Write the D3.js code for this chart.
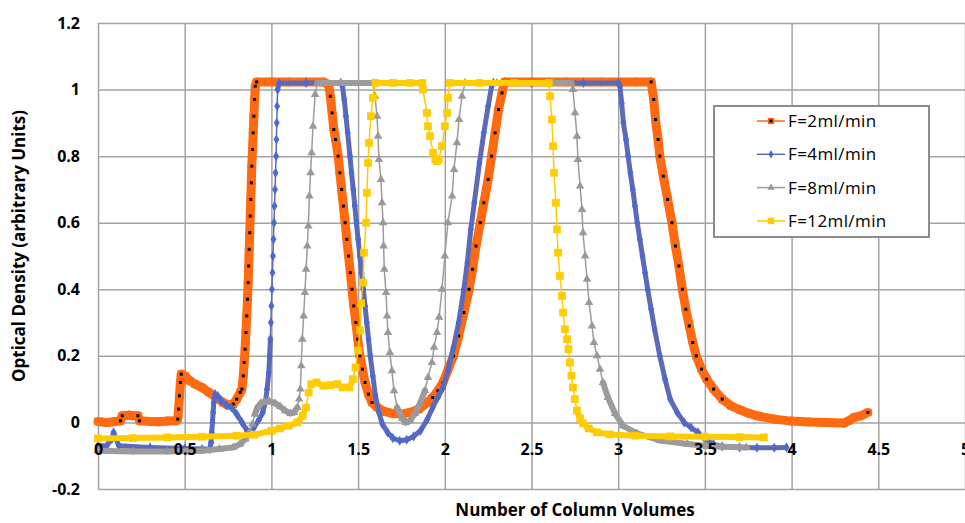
<!DOCTYPE html>
<html>
<head>
<meta charset="utf-8">
<script src="https://cdn.jsdelivr.net/npm/d3@7"></script>
<style>
  body { margin: 0; background: #fff; }
  svg { display: block; }
  .labels text { font-family: "Open Sans", sans-serif; font-weight: bold; font-size: 16px; fill: #000; }
</style>
</head>
<body>
<div id="chart"></div>
<script>
// tick values
let xTicks = [0, 0.5, 1, 1.5, 2, 2.5, 3, 3.5, 4, 4.5, 5]
let yTicks = [-0.2, 0, 0.2, 0.4, 0.6, 0.8, 1, 1.2]

let seriesNames = ["F=2ml/min", "F=4ml/min", "F=8ml/min", "F=12ml/min"]

// [column volumes, optical density]
let f2 = [[0,0.003],[0.05,0.0],[0.1,0.003],[0.13,0.005],[0.14,0.02],[0.18,0.022],[0.2,0.02],[0.23,0.02],[0.24,0.005],
  [0.3,0.003],[0.35,0.002],[0.4,0.004],[0.45,0.005],[0.46,0.01],[0.465,0.04],[0.47,0.08],[0.475,0.12],[0.48,0.145],
  [0.5,0.14],[0.53,0.125],[0.56,0.115],[0.6,0.105],[0.64,0.09],[0.68,0.075],[0.72,0.06],[0.75,0.052],[0.78,0.055],
  [0.8,0.07],[0.82,0.09],[0.83,0.1],[0.838,0.14],[0.843,0.18],[0.848,0.22],[0.853,0.27],[0.858,0.32],[0.862,0.37],
  [0.866,0.42],[0.869,0.47],[0.872,0.52],[0.875,0.57],[0.878,0.62],[0.881,0.67],[0.884,0.72],[0.887,0.77],[0.891,0.82],
  [0.895,0.87],[0.899,0.92],[0.903,0.97],[0.907,1.01],[0.915,1.023],[1.0,1.023],[1.1,1.023],[1.2,1.023],[1.3,1.023],
  [1.33,1.015],[1.34,0.98],[1.35,0.93],[1.36,0.88],[1.37,0.85],[1.385,0.8],[1.395,0.75],[1.405,0.7],[1.415,0.65],
  [1.425,0.6],[1.435,0.55],[1.445,0.5],[1.455,0.45],[1.465,0.4],[1.475,0.35],[1.487,0.3],[1.498,0.25],[1.51,0.2],
  [1.525,0.16],[1.54,0.12],[1.56,0.085],[1.58,0.06],[1.61,0.045],[1.65,0.033],[1.7,0.027],[1.75,0.025],[1.8,0.03],
  [1.85,0.04],[1.9,0.06],[1.93,0.075],[1.96,0.095],[1.99,0.12],[2.02,0.16],[2.05,0.2],[2.08,0.26],[2.11,0.33],
  [2.14,0.4],[2.16,0.46],[2.18,0.53],[2.205,0.6],[2.225,0.66],[2.25,0.73],[2.27,0.8],[2.29,0.87],[2.31,0.94],
  [2.33,0.99],[2.345,1.023],[2.5,1.023],[2.7,1.023],[2.9,1.023],[3.1,1.023],[3.19,1.023],[3.205,0.97],[3.215,0.91],
  [3.23,0.85],[3.24,0.8],[3.26,0.74],[3.285,0.67],[3.31,0.6],[3.33,0.53],[3.35,0.47],[3.37,0.4],[3.39,0.34],
  [3.41,0.29],[3.43,0.24],[3.45,0.2],[3.48,0.16],[3.51,0.13],[3.55,0.1],[3.6,0.07],[3.65,0.05],[3.7,0.038],
  [3.75,0.028],[3.8,0.02],[3.9,0.01],[4.0,0.004],[4.1,0.001],[4.2,0.0],[4.3,-0.002],[4.33,0.005],[4.36,0.015],
  [4.4,0.02],[4.44,0.03]]

let f4 = [[0,-0.07],[0.05,-0.07],[0.08,-0.05],[0.09,-0.03],[0.1,-0.045],[0.12,-0.07],[0.3,-0.075],[0.5,-0.078],
  [0.6,-0.08],[0.645,-0.08],[0.652,-0.06],[0.656,-0.03],[0.66,0.0],[0.664,0.03],[0.668,0.06],[0.675,0.085],
  [0.69,0.08],[0.71,0.065],[0.74,0.052],[0.77,0.045],[0.8,0.025],[0.83,0.0],[0.86,-0.025],[0.875,-0.03],[0.9,-0.015],
  [0.93,0.01],[0.95,0.03],[0.965,0.06],[0.975,0.1],[0.985,0.15],[0.99,0.2],[0.994,0.25],[0.997,0.3],[1.0,0.35],
  [1.003,0.4],[1.006,0.45],[1.009,0.5],[1.012,0.55],[1.015,0.6],[1.018,0.65],[1.021,0.7],[1.024,0.75],[1.027,0.8],
  [1.029,0.85],[1.031,0.9],[1.033,0.95],[1.036,1.0],[1.045,1.02],[1.2,1.02],[1.4,1.02],[1.41,1.01],[1.42,0.97],
  [1.43,0.92],[1.44,0.87],[1.453,0.8],[1.462,0.75],[1.472,0.7],[1.481,0.65],[1.49,0.6],[1.5,0.55],[1.51,0.5],
  [1.52,0.45],[1.53,0.4],[1.54,0.35],[1.55,0.3],[1.56,0.25],[1.57,0.2],[1.585,0.14],[1.6,0.08],[1.62,0.03],
  [1.64,-0.005],[1.67,-0.03],[1.7,-0.047],[1.74,-0.055],[1.78,-0.052],[1.82,-0.042],[1.86,-0.025],[1.9,0.01],
  [1.93,0.045],[1.96,0.075],[1.99,0.105],[2.02,0.16],[2.05,0.225],[2.08,0.3],[2.11,0.4],[2.13,0.48],[2.15,0.58],
  [2.17,0.66],[2.2,0.78],[2.225,0.87],[2.25,0.95],[2.27,1.01],[2.28,1.02],[2.5,1.02],[2.8,1.02],[3.0,1.02],
  [3.01,1.01],[3.02,0.96],[3.03,0.9],[3.045,0.85],[3.057,0.8],[3.07,0.75],[3.084,0.7],[3.097,0.65],[3.11,0.6],
  [3.125,0.55],[3.14,0.5],[3.155,0.45],[3.17,0.4],[3.19,0.34],[3.21,0.28],[3.24,0.2],[3.27,0.13],[3.3,0.07],
  [3.34,0.03],[3.38,0.0],[3.42,-0.015],[3.46,-0.03],[3.5,-0.05],[3.55,-0.065],[3.6,-0.072],[3.7,-0.075],
  [3.8,-0.076],[3.9,-0.076],[3.97,-0.075]]

let f8 = [[0,-0.085],[0.2,-0.087],[0.4,-0.087],[0.6,-0.085],[0.7,-0.08],[0.78,-0.075],[0.82,-0.065],[0.85,-0.05],
  [0.875,-0.03],[0.89,-0.005],[0.905,0.025],[0.92,0.045],[0.94,0.058],[0.96,0.062],[0.99,0.063],[1.02,0.058],
  [1.05,0.048],[1.08,0.035],[1.11,0.027],[1.13,0.03],[1.15,0.045],[1.16,0.07],[1.167,0.1],[1.172,0.17],[1.178,0.25],
  [1.186,0.32],[1.193,0.39],[1.2,0.46],[1.207,0.53],[1.213,0.59],[1.219,0.68],[1.226,0.75],[1.232,0.81],[1.24,0.89],
  [1.252,0.985],[1.265,1.02],[1.4,1.02],[1.586,1.02],[1.597,0.98],[1.609,0.92],[1.615,0.86],[1.62,0.79],
  [1.632,0.73],[1.638,0.66],[1.644,0.6],[1.647,0.53],[1.651,0.46],[1.661,0.39],[1.667,0.32],[1.672,0.27],
  [1.683,0.21],[1.695,0.155],[1.707,0.095],[1.725,0.045],[1.755,0.012],[1.775,0.0],[1.8,0.006],[1.828,0.027],
  [1.857,0.057],[1.886,0.096],[1.903,0.135],[1.926,0.18],[1.938,0.226],[1.955,0.27],[1.967,0.316],[1.984,0.4],
  [2.0,0.5],[2.018,0.6],[2.042,0.68],[2.053,0.76],[2.07,0.84],[2.082,0.91],[2.099,0.98],[2.117,1.02],[2.3,1.02],
  [2.5,1.02],[2.73,1.02],[2.739,1.0],[2.751,0.93],[2.762,0.86],[2.768,0.79],[2.78,0.71],[2.791,0.64],[2.797,0.57],
  [2.809,0.5],[2.82,0.43],[2.832,0.36],[2.849,0.29],[2.86,0.24],[2.878,0.2],[2.895,0.16],[2.912,0.12],[2.941,0.075],
  [2.982,0.027],[3.028,-0.01],[3.108,-0.033],[3.241,-0.054],[3.4,-0.065],[3.5,-0.07],[3.6,-0.073],[3.74,-0.075]]

let f12 = [[0,-0.048],[0.2,-0.047],[0.4,-0.045],[0.6,-0.043],[0.8,-0.04],[0.9,-0.037],[1.0,-0.025],[1.05,-0.018],
  [1.1,-0.01],[1.15,0.0],[1.18,0.02],[1.2,0.045],[1.215,0.09],[1.23,0.115],[1.26,0.12],[1.3,0.11],[1.34,0.112],
  [1.38,0.115],[1.41,0.105],[1.45,0.105],[1.47,0.13],[1.485,0.165],[1.5,0.216],[1.511,0.277],[1.517,0.358],
  [1.528,0.42],[1.534,0.51],[1.546,0.6],[1.551,0.69],[1.557,0.78],[1.563,0.84],[1.574,0.92],[1.586,0.975],
  [1.6,1.02],[1.7,1.02],[1.8,1.02],[1.87,1.02],[1.874,1.0],[1.897,0.93],[1.903,0.89],[1.915,0.86],[1.932,0.81],
  [1.945,0.79],[1.955,0.785],[1.965,0.79],[1.984,0.83],[2.0,0.89],[2.013,0.93],[2.018,0.975],[2.03,1.02],
  [2.2,1.02],[2.4,1.02],[2.6,1.02],[2.607,0.98],[2.618,0.91],[2.624,0.83],[2.63,0.75],[2.641,0.66],[2.647,0.58],
  [2.653,0.51],[2.664,0.44],[2.676,0.38],[2.682,0.33],[2.693,0.28],[2.705,0.25],[2.713,0.22],[2.722,0.18],
  [2.73,0.14],[2.739,0.105],[2.75,0.07],[2.762,0.036],[2.78,0.012],[2.797,-0.003],[2.83,-0.018],[2.878,-0.03],
  [2.95,-0.036],[3.1,-0.04],[3.3,-0.042],[3.5,-0.043],[3.7,-0.044],[3.84,-0.045]]

let seriesData = [f2, f4, f8, f12]

// look of each series: colour, band width for flat parts, thin width for steep parts
let styles = [
  {line: "#ff6a10", mark: "#ff6a10", band: 9, thin: 9, steep: 1e9, shape: d3.symbolSquare, size: 56, dot: true},
  {line: "#5f6ab4", mark: "#4d68cf", band: 5, thin: 1.5, steep: 25, shape: d3.symbolDiamond, size: 30, dot: false},
  {line: "#9c9c9c", mark: "#999999", band: 6, thin: 1.5, steep: 3, shape: d3.symbolTriangle, size: 32, dot: false},
  {line: "#ffcc00", mark: "#ffcc00", band: 6, thin: 1.5, steep: 3, shape: d3.symbolSquare, size: 60, dot: false}
]

let width = 965, height = 523

let svg = d3.select("#chart")
  .append("svg")
  .attr("width", width)
  .attr("height", height)

let xScale = d3.scaleLinear().domain([0, 5]).range([98, 965])
let yScale = d3.scaleLinear().domain([-0.2, 1.2]).range([489, 23])

// grid
svg.append("g")
  .attr("transform", "translate(0,489)")
  .call(d3.axisBottom(xScale).tickValues(xTicks).tickSize(-466).tickFormat(""))
  .call(g => g.select(".domain").remove())
  .selectAll("line").attr("stroke", "#a3a3a3").attr("stroke-width", 1.5)
svg.append("g")
  .attr("transform", "translate(98,0)")
  .call(d3.axisLeft(yScale).tickValues(yTicks).tickSize(-867).tickFormat(""))
  .call(g => g.select(".domain").remove())
  .selectAll("line").attr("stroke", "#a3a3a3").attr("stroke-width", 1.5)

// series
seriesData.forEach(function (data, k) {
  let st = styles[k]
  let g = svg.append("g")
  let segs = []
  for (let i = 0; i < data.length - 1; i++) {
    let x1 = xScale(data[i][0]), y1 = yScale(data[i][1])
    let x2 = xScale(data[i + 1][0]), y2 = yScale(data[i + 1][1])
    let steep = Math.abs(y2 - y1) > st.steep * Math.abs(x2 - x1)
    segs.push({x1, y1, x2, y2, steep, r: Math.abs(y2 - y1) / Math.max(Math.abs(x2 - x1), 0.01)})
  }
  g.selectAll(".seg")
    .data(segs)
    .enter()
    .append("line")
    .attr("x1", d => d.x1).attr("y1", d => d.y1)
    .attr("x2", d => d.x2).attr("y2", d => d.y2)
    .attr("stroke", st.line)
    .attr("stroke-width", d => d.steep ? st.thin : st.band)
    .attr("stroke-linecap", d => d.steep ? "butt" : "round")

  g.selectAll(".mk")
    .data(data)
    .enter()
    .append("path")
    .attr("d", d3.symbol().type(st.shape).size(st.size))
    .attr("transform", d => "translate(" + xScale(d[0]) + "," + yScale(d[1]) + ")")
    .style("fill", st.mark)

  if (st.dot) {
    g.selectAll(".dot")
      .data(data.filter((d, i) => (segs[i] && segs[i].r > 1) || (segs[i - 1] && segs[i - 1].r > 1) || i == data.length - 1))
      .enter()
      .append("rect")
      .attr("x", d => xScale(d[0]) - 1.5)
      .attr("y", d => yScale(d[1]) - 1.5)
      .attr("width", 3).attr("height", 3)
      .style("fill", "#000")
  }
})

// tick labels
svg.append("g")
  .attr("class", "labels")
  .attr("transform", "translate(0," + yScale(0) + ")")
  .call(d3.axisBottom(xScale).tickValues(xTicks).tickSize(0).tickPadding(21).tickFormat(d => d))
  .call(g => g.select(".domain").remove())
svg.append("g")
  .attr("class", "labels")
  .attr("transform", "translate(98,0)")
  .call(d3.axisLeft(yScale).tickValues(yTicks).tickSize(0).tickPadding(18).tickFormat(d => d))
  .call(g => g.select(".domain").remove())

// axis titles
svg.append("text")
  .attr("x", 575).attr("y", 516)
  .attr("text-anchor", "middle")
  .style("font-family", "Open Sans").style("font-weight", "bold").style("font-size", "17px")
  .text("Number of Column Volumes")
svg.append("text")
  .attr("transform", "translate(25,246) rotate(-90)")
  .attr("text-anchor", "middle")
  .style("font-family", "Open Sans").style("font-weight", "bold").style("font-size", "17px")
  .text("Optical Density (arbitrary Units)")

// legend
let legend = svg.append("g")
legend.append("rect")
  .attr("x", 714).attr("y", 106).attr("width", 215).attr("height", 131)
  .attr("fill", "#fff").attr("stroke", "#8c8c8c").attr("stroke-width", 2)
seriesNames.forEach(function (name, k) {
  let st = styles[k]
  let ly = 121 + k * 33.3
  legend.append("line")
    .attr("x1", 757).attr("x2", 785).attr("y1", ly).attr("y2", ly)
    .attr("stroke", st.line).attr("stroke-width", 1.5)
  legend.append("path")
    .attr("d", d3.symbol().type(st.shape).size(st.size * 0.7))
    .attr("transform", "translate(771," + ly + ")")
    .style("fill", st.mark)
  if (st.dot) {
    legend.append("rect").attr("x", 769.5).attr("y", ly - 1.5).attr("width", 3).attr("height", 3).style("fill", "#000")
  }
  legend.append("text")
    .attr("x", 788).attr("y", ly).attr("dy", "0.35em")
    .style("font-family", "Open Sans").style("font-size", "17px").style("letter-spacing", "0.4px")
    .text(name)
})
</script>
</body>
</html>
